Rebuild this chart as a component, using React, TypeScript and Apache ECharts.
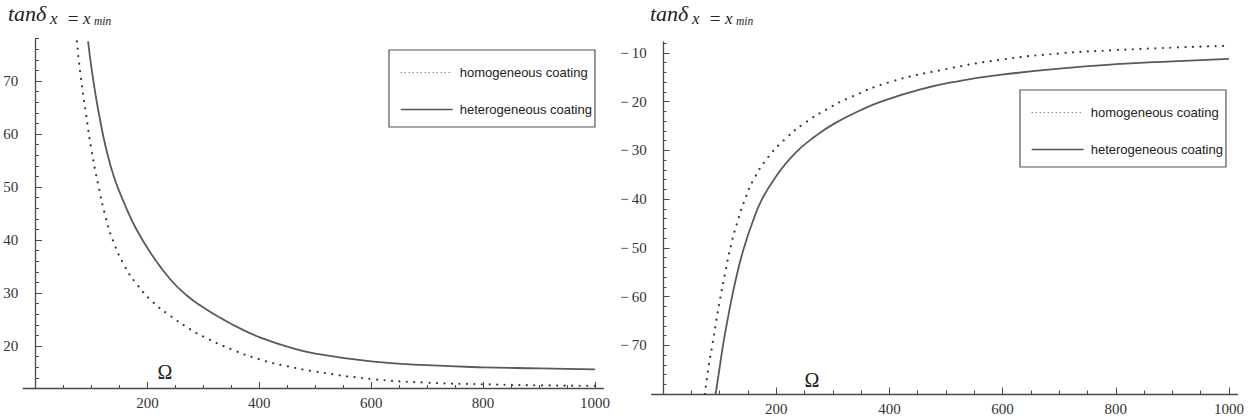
import React, { useEffect, useRef } from "react";
import * as echarts from "echarts";

// tick helper (axis decoration only)
const range = (from: number, to: number, step: number): number[] => {
  const out: number[] = [];
  for (let v = from; v <= to + 1e-9; v += step) out.push(Math.round(v * 1000) / 1000);
  return out;
};

// Ω axis (shared by both panels)
const omegaLabels = [200, 400, 600, 800, 1000];
const omegaMinorTicks = range(50, 1000, 50);

// left panel: tan δ > 0
const leftTanLabels = [20, 30, 40, 50, 60, 70];
const leftTanMinorTicks = range(14, 78, 2);

const leftHomOmega = [74, 80, 90, 100, 112, 125, 140, 160, 180, 210, 240, 276, 300, 350, 400, 450, 500, 600, 700, 800, 900, 1000];
const leftHomTan = [77.5, 71.5, 64, 57, 50.5, 44.5, 39.5, 35, 31.8, 28.3, 25.8, 23.2, 21.8, 19.4, 17.5, 16.2, 15.2, 13.8, 13.1, 12.8, 12.6, 12.5];

const leftHetOmega = [94, 100, 108, 115, 125, 140, 160, 180, 205, 240, 271, 300, 336, 370, 400, 450, 500, 600, 700, 800, 900, 1000];
const leftHetTan = [77.5, 72.5, 67, 62.9, 57.8, 52, 46.6, 42.1, 37.7, 32.7, 29.5, 27.3, 25, 23.1, 21.7, 19.9, 18.6, 17.1, 16.4, 16, 15.8, 15.6];

// right panel: tan δ < 0
const rightTanLabels = [-70, -60, -50, -40, -30, -20, -10];
const rightTanMinorTicks = range(-78, -8, 2);

const rightHomOmega = [74, 80, 87, 94, 100, 110, 120, 132, 145, 160, 185, 219, 250, 290, 327, 400, 500, 595, 700, 800, 900, 1000];
const rightHomTan = [-80, -74.8, -70, -65, -61, -55, -49.5, -44.5, -40, -36, -31.5, -27.3, -24.4, -21.5, -19.3, -16, -13.3, -11.4, -10.1, -9.4, -8.9, -8.5];

const rightHetOmega = [93, 100, 106, 114, 122, 132, 143, 158, 175, 200, 233, 270, 304, 350, 383, 450, 525, 595, 700, 800, 900, 1000];
const rightHetTan = [-80, -74.6, -70, -64.8, -60, -54.8, -50, -44.8, -40, -35.3, -30.6, -27, -24.4, -21.7, -20.1, -17.6, -15.7, -14.5, -13.2, -12.3, -11.7, -11.2];

const HOM = "homogeneous coating";
const HET = "heterogeneous coating";

const zip = (xs: number[], ys: number[]) => xs.map((x, i) => [x, ys[i]]);

const AXIS_COLOR = "#4a4a4a";
const LABEL_FONT = "'Liberation Serif', 'Times New Roman', serif";
const LEGEND_FONT = "'Liberation Sans', Arial, sans-serif";
const MINUS = "\u2212";

const labelStyle = {
  fontFamily: LABEL_FONT,
  fontSize: 15,
  fontWeight: "normal",
  color: "#333",
};

const mainX = (gridIndex: number, min: number) => ({
  type: "value",
  gridIndex,
  min,
  max: 1015,
  position: "bottom",
  axisLine: { show: true, onZero: false, lineStyle: { color: AXIS_COLOR, width: 1.3 } },
  axisTick: { show: true, inside: true, length: 3.5, customValues: omegaMinorTicks, lineStyle: { color: AXIS_COLOR, width: 1 } },
  axisLabel: { show: true, customValues: omegaLabels, margin: 7, formatter: (v: number) => String(v), ...labelStyle },
  splitLine: { show: false },
});

const majorX = (gridIndex: number, min: number) => ({
  type: "value",
  gridIndex,
  min,
  max: 1015,
  position: "bottom",
  axisLine: { show: false, onZero: false },
  axisTick: { show: true, inside: true, length: 6.5, customValues: omegaLabels, lineStyle: { color: AXIS_COLOR, width: 1 } },
  axisLabel: { show: false },
  splitLine: { show: false },
});

const tanFormatter = (v: number) => (v < 0 ? MINUS + "\u2009" + Math.abs(v) : String(v));

const mainY = (gridIndex: number, min: number, max: number, minor: number[], labels: number[]) => ({
  type: "value",
  gridIndex,
  min,
  max,
  position: "left",
  axisLine: { show: true, onZero: true, lineStyle: { color: AXIS_COLOR, width: 1.3 } },
  axisTick: { show: true, inside: true, length: 3.5, customValues: minor, lineStyle: { color: AXIS_COLOR, width: 1 } },
  axisLabel: { show: true, customValues: labels, margin: 5, formatter: tanFormatter, ...labelStyle },
  splitLine: { show: false },
});

const majorY = (gridIndex: number, min: number, max: number, labels: number[]) => ({
  type: "value",
  gridIndex,
  min,
  max,
  position: "left",
  axisLine: { show: false, onZero: true },
  axisTick: { show: true, inside: true, length: 6.5, customValues: labels, lineStyle: { color: AXIS_COLOR, width: 1 } },
  axisLabel: { show: false },
  splitLine: { show: false },
});

const DOT_COLOR = "#383838";
const SOLID_COLOR = "#5a5a5a";
const dottedStyle = { color: DOT_COLOR, width: 2.2, type: [0.01, 7.5] as number[], cap: "round" };
const solidStyle = { color: SOLID_COLOR, width: 1.8, type: "solid" };

const curve = (name: string, xAxisIndex: number, yAxisIndex: number, data: number[][], lineStyle: any) => ({
  type: "line",
  name,
  xAxisIndex,
  yAxisIndex,
  data,
  symbol: "none",
  showSymbol: false,
  smooth: 0.5,
  clip: true,
  itemStyle: { color: lineStyle.color },
  lineStyle,
  emphasis: { disabled: true },
});

const legendBox = (left: number, top: number) => ({
  orient: "vertical",
  left,
  top,
  padding: [16, 3, 11, 11],
  itemWidth: 52,
  itemHeight: 14,
  itemGap: 24,
  borderColor: "#555",
  borderWidth: 1.2,
  backgroundColor: "#fff",
  selectedMode: false,
  itemStyle: { opacity: 0 },
  textStyle: { fontFamily: LEGEND_FONT, fontSize: 13, color: "#222", padding: [0, 0, 0, 2] },
  data: [
    { name: HOM, itemStyle: { opacity: 0 }, lineStyle: { color: "#555", width: 1, type: [1, 3], cap: "butt" } },
    { name: HET, itemStyle: { opacity: 0 }, lineStyle: { color: "#555", width: 1.4, type: "solid" } },
  ],
});

const SERIF_ITALIC = { fontFamily: LABEL_FONT, fontStyle: "italic", fill: "#222" };

const titleTexts = (x0: number) => [
  { type: "text", x: x0, y: 13, style: { text: "tan\u03b4", fontSize: 22, ...SERIF_ITALIC, verticalAlign: "middle" } },
  { type: "text", x: x0 + 42, y: 18.5, style: { text: "x", fontSize: 17, ...SERIF_ITALIC, verticalAlign: "middle" } },
  { type: "text", x: x0 + 65, y: 18.5, style: { text: "=", fontSize: 19, fontFamily: LABEL_FONT, fill: "#222", align: "center", verticalAlign: "middle" } },
  { type: "text", x: x0 + 75, y: 18.5, style: { text: "x", fontSize: 17, ...SERIF_ITALIC, verticalAlign: "middle" } },
  { type: "text", x: x0 + 86, y: 21, style: { text: "min", fontSize: 11.5, ...SERIF_ITALIC, verticalAlign: "middle" } },
];

const omegaName = (x: number, y: number) => ({
  type: "text",
  x,
  y,
  style: { text: "\u03a9", fontSize: 20, fontFamily: LABEL_FONT, fill: "#222", align: "center", verticalAlign: "middle" },
});

export default function App() {
  const ref = useRef<HTMLDivElement>(null);

  useEffect(() => {
    if (!ref.current) return;
    const chart = echarts.init(ref.current, null, { renderer: "svg" });
    chart.setOption({
      animation: false,
      backgroundColor: "#fff",
      grid: [
        { left: 23.2, top: 38.7, width: 580.2, height: 349.8 },
        { left: 651.7, top: 41.8, width: 585.8, height: 352.2 },
      ],
      xAxis: [mainX(0, -22), majorX(0, -22), mainX(1, -20), majorX(1, -20)],
      yAxis: [
        mainY(0, 12, 78, leftTanMinorTicks, leftTanLabels),
        majorY(0, 12, 78, leftTanLabels),
        mainY(1, -80, -7.7, rightTanMinorTicks, rightTanLabels),
        majorY(1, -80, -7.7, rightTanLabels),
      ],
      legend: [legendBox(389, 50), legendBox(1020, 90)],
      series: [
        curve(HOM, 0, 0, zip(leftHomOmega, leftHomTan), dottedStyle),
        curve(HET, 0, 0, zip(leftHetOmega, leftHetTan), solidStyle),
        curve(HOM, 2, 2, zip(rightHomOmega, rightHomTan), dottedStyle),
        curve(HET, 2, 2, zip(rightHetOmega, rightHetTan), solidStyle),
      ],
      graphic: [
        ...titleTexts(8),
        ...titleTexts(650),
        omegaName(165, 372),
        omegaName(812, 380),
      ],
    });
    return () => chart.dispose();
  }, []);

  return (
    <div
      ref={ref}
      style={{ position: "fixed", left: 0, top: 0, width: 1250, height: 420, background: "#fff" }}
    />
  );
}
